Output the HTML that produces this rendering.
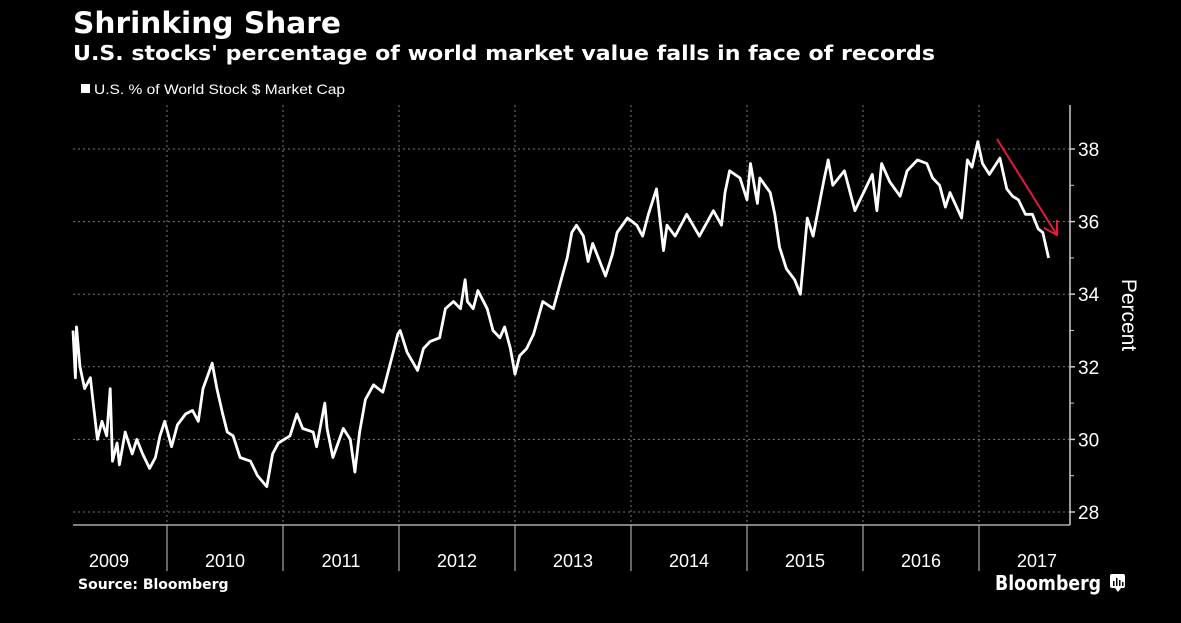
<!DOCTYPE html>
<html><head><meta charset="utf-8">
<style>
html,body{margin:0;padding:0;background:#000;}
svg{display:block;}
text{font-family:"DejaVu Sans","Liberation Sans",sans-serif;fill:#fff;}
.lib{font-family:"Liberation Sans",sans-serif;}
</style></head>
<body>
<svg id="chart" width="1181" height="623" viewBox="0 0 1181 623">
<rect x="0" y="0" width="1181" height="623" fill="#000"/>
<text x="73" y="33" font-size="29" font-weight="bold" textLength="268" lengthAdjust="spacingAndGlyphs">Shrinking Share</text>
<text x="73" y="60" font-size="20" font-weight="bold" textLength="862" lengthAdjust="spacingAndGlyphs">U.S. stocks' percentage of world market value falls in face of records</text>
<rect x="81" y="84" width="9" height="9" fill="#fff"/>
<text class="lib" x="94" y="94" font-size="14" fill="#ddd" textLength="251" lengthAdjust="spacingAndGlyphs">U.S. % of World Stock $ Market Cap</text>
<g id="grid"></g>
<g id="axes"></g>
<g id="series"></g>
<line x1="997" y1="139" x2="1057" y2="235" stroke="#e8193c" stroke-width="2"/>
<polyline points="1044,228 1057,235 1057,220" fill="none" stroke="#e8193c" stroke-width="2"/>
<text class="lib" x="1122" y="315" font-size="21" text-anchor="middle" transform="rotate(90 1122 315)">Percent</text>
<text x="78" y="589" font-size="14" font-weight="bold">Source: Bloomberg</text>
<text x="995" y="590" font-size="20" font-weight="bold" textLength="106" lengthAdjust="spacingAndGlyphs">Bloomberg</text>
<g>
<rect x="1110" y="574" width="15" height="14" rx="2" fill="#fff"/>
<path d="M1115,588 L1118,592 L1121,588 Z" fill="#fff"/>
<rect x="1113" y="581" width="1.5" height="5" fill="#000"/>
<rect x="1116" y="578" width="1.5" height="8" fill="#000"/>
<rect x="1119" y="580" width="1.5" height="6" fill="#000"/>
<rect x="1122" y="582" width="1.5" height="4" fill="#000"/>
</g>
</svg>
<script>
const dates=[2009.19,2009.21,2009.22,2009.25,2009.29,2009.34,2009.36,2009.40,2009.44,2009.48,2009.51,2009.53,2009.57,2009.59,2009.64,2009.70,2009.74,2009.79,2009.85,2009.90,2009.94,2009.98,
2010.04,2010.09,2010.16,2010.22,2010.27,2010.31,2010.39,2010.43,2010.48,2010.52,2010.57,2010.63,2010.72,2010.78,2010.86,2010.91,2010.96,
2011.06,2011.12,2011.17,2011.26,2011.29,2011.36,2011.38,2011.43,2011.52,2011.58,2011.62,2011.66,2011.71,2011.78,2011.86,2011.95,2011.99,
2012.01,2012.07,2012.16,2012.21,2012.27,2012.35,2012.40,2012.47,2012.53,2012.57,2012.59,2012.64,2012.68,2012.76,2012.81,2012.87,2012.91,2012.96,
2013.00,2013.04,2013.10,2013.16,2013.24,2013.33,2013.39,2013.45,2013.49,2013.53,2013.59,2013.63,2013.67,2013.78,2013.84,2013.88,2013.97,
2014.05,2014.10,2014.15,2014.22,2014.28,2014.31,2014.38,2014.48,2014.59,2014.71,2014.78,2014.81,2014.85,2014.94,
2015.00,2015.03,2015.09,2015.11,2015.20,2015.24,2015.28,2015.34,2015.41,2015.46,2015.52,2015.57,2015.66,2015.70,2015.74,2015.84,2015.93,2015.99,
2016.08,2016.12,2016.16,2016.23,2016.32,2016.38,2016.47,2016.55,2016.60,2016.66,2016.71,2016.75,2016.85,2016.90,2016.94,2016.99,
2017.03,2017.09,2017.18,2017.24,2017.29,2017.34,2017.40,2017.46,2017.51,2017.55,2017.60];
const values=[33.0,31.7,33.1,32.0,31.4,31.7,31.1,30.0,30.5,30.1,31.4,29.4,29.9,29.3,30.2,29.6,30.0,29.6,29.2,29.5,30.1,30.5,
29.8,30.4,30.7,30.8,30.5,31.4,32.1,31.4,30.7,30.2,30.1,29.5,29.4,29.0,28.7,29.6,29.9,
30.1,30.7,30.3,30.2,29.8,31.0,30.3,29.5,30.3,30.0,29.1,30.2,31.1,31.5,31.3,32.4,32.9,
33.0,32.4,31.9,32.5,32.7,32.8,33.6,33.8,33.6,34.4,33.8,33.6,34.1,33.6,33.0,32.8,33.1,32.5,
31.8,32.3,32.5,32.9,33.8,33.6,34.3,35.0,35.7,35.9,35.6,34.9,35.4,34.5,35.1,35.7,36.1,
35.9,35.6,36.2,36.9,35.2,35.9,35.6,36.2,35.6,36.3,35.9,36.8,37.4,37.2,
36.6,37.6,36.5,37.2,36.8,36.2,35.3,34.7,34.4,34.0,36.1,35.6,37.1,37.7,37.0,37.4,36.3,36.7,
37.3,36.3,37.6,37.1,36.7,37.4,37.7,37.6,37.2,37.0,36.4,36.8,36.1,37.7,37.5,38.2,
37.6,37.3,37.75,36.9,36.7,36.6,36.2,36.2,35.8,35.7,35.0];
const yTicks=[28,30,32,34,36,38];
const yMinor=[29,31,33,35,37];
const years=[2009,2010,2011,2012,2013,2014,2015,2016,2017];

const NS='http://www.w3.org/2000/svg';
const X0=51, YW=116, AXX=1070, AXB=525, AXT=105;
function xs(t){return X0+(t-2009)*YW;}
function ys(v){return 149+(38-v)*36.3;}
function mk(tag,attrs,parent){const e=document.createElementNS(NS,tag);for(const k in attrs)e.setAttribute(k,attrs[k]);parent.appendChild(e);return e;}
const grid=document.getElementById('grid'),axes=document.getElementById('axes'),series=document.getElementById('series');

yTicks.forEach(v=>{
  const g=mk('line',{x1:73,x2:AXX,y1:ys(v),y2:ys(v),stroke:'#777','stroke-width':1,'stroke-dasharray':'2,3'},grid);
  
  
  const t=mk('line',{x1:AXX,x2:AXX+5,y1:ys(v),y2:ys(v),stroke:'#ccc','stroke-width':1.5},axes);
  
  
  const l=mk('text',{x:AXX+8,y:ys(v)+7,'font-size':19,'class':'lib'},axes);
  l.textContent=v;
  
  
});
yMinor.forEach(v=>{
  const t=mk('line',{x1:AXX,x2:AXX+4,y1:ys(v),y2:ys(v),stroke:'#ccc','stroke-width':1},axes);
  
  
});
years.forEach((yr,i)=>{
  const cx=xs(yr+0.5);
  if(i>0){
    const gx=xs(yr);
    const g=mk('line',{x1:gx,x2:gx,y1:AXT,y2:AXB,stroke:'#777','stroke-width':1,'stroke-dasharray':'2,3'},grid);
    
    
    const s=mk('line',{x1:gx,x2:gx,y1:AXB,y2:571,stroke:'#aaa','stroke-width':1.2},axes);
    
    
  }
  const l=mk('text',{x:cx,y:567,'font-size':18,'text-anchor':'middle',fill:'#eee','class':'lib'},axes);
  l.textContent=yr;
  
  
});
const xa=mk('line',{x1:73,x2:AXX,y1:AXB,y2:AXB,stroke:'#aaa','stroke-width':1.5},axes);


const ya=mk('line',{x1:AXX,x2:AXX,y1:AXT,y2:AXB,stroke:'#ccc','stroke-width':1.5},axes);



const pts=dates.map((d,i)=>xs(d).toFixed(1)+','+ys(values[i]).toFixed(1)).join(' ');
const line=mk('polyline',{points:pts,fill:'none',stroke:'#fff','stroke-width':2.8,'stroke-linejoin':'round'},series);


</script>
</body></html>
